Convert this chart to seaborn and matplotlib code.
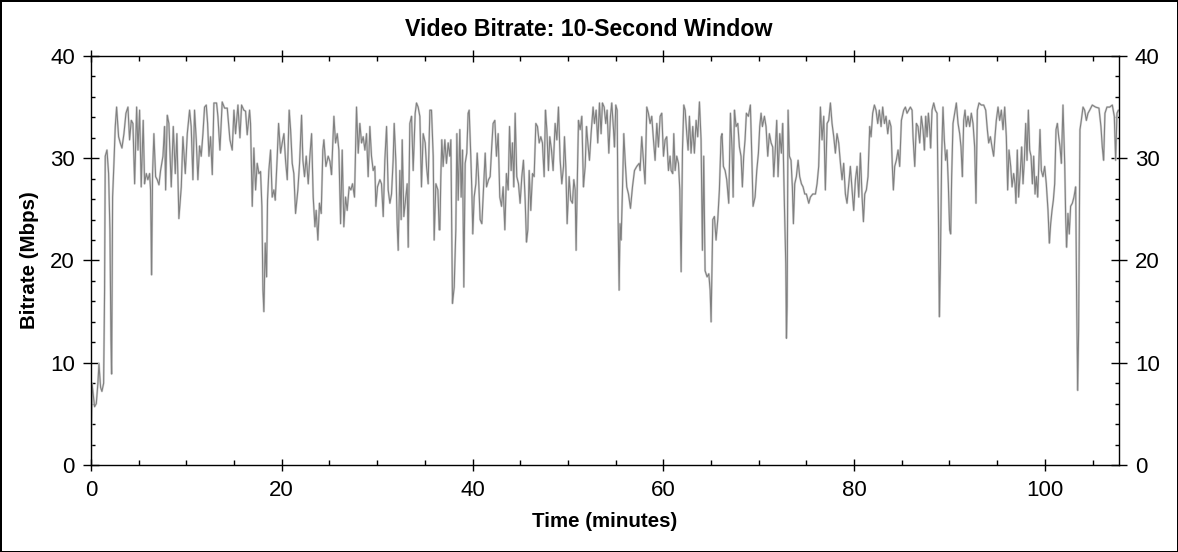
import matplotlib
matplotlib.use("Agg")
import matplotlib.pyplot as plt
from matplotlib.ticker import MultipleLocator
import pandas as pd
import seaborn as sns

# Values (minutes, Mbps)
time_min = [
    0.00, 0.11, 0.38, 0.56, 0.73, 0.84, 1.01, 1.15, 1.33, 1.43, 1.50, 1.68, 1.85, 1.99, 2.10, 2.17,
    2.27, 2.41, 2.55, 2.69, 2.90, 3.07, 3.25, 3.46, 3.67, 3.88, 4.05, 4.23, 4.40, 4.58, 4.79, 4.93,
    5.10, 5.27, 5.48, 5.62, 5.80, 5.97, 6.15, 6.25, 6.36, 6.46, 6.60, 6.78, 6.95, 7.13, 7.30, 7.55,
    7.72, 7.83, 8.00, 8.17, 8.42, 8.63, 8.84, 9.01, 9.22, 9.47, 9.64, 9.89, 10.10, 10.34, 10.51,
    10.69, 10.86, 11.04, 11.21, 11.39, 11.56, 11.74, 11.91, 12.09, 12.23,
    12.37, 12.54, 12.72, 12.89, 13.17, 13.31, 13.52, 13.76, 14.01, 14.29, 14.57, 14.81, 14.99, 15.16,
    15.41, 15.62, 15.79, 16.03, 16.21, 16.38, 16.63, 16.73, 16.91, 17.08, 17.26, 17.43, 17.61, 17.78,
    17.92, 18.03, 18.13, 18.27, 18.41, 18.51, 18.65, 18.83, 19.00, 19.18, 19.32, 19.53, 19.67, 19.88,
    20.05, 20.23, 20.40, 20.58, 20.78, 20.93, 21.10, 21.27, 21.45, 21.69, 21.87, 22.08, 22.22, 22.39,
    22.57, 22.78, 22.95, 23.13, 23.30, 23.48, 23.61, 23.79, 23.96, 24.14, 24.31,
    24.42, 24.63, 24.87, 25.05, 25.22, 25.47, 25.64, 25.82, 25.99, 26.17, 26.34, 26.51, 26.69, 26.86,
    27.07, 27.25, 27.42, 27.63, 27.84, 28.02, 28.19, 28.37, 28.54, 28.72, 28.89, 29.06, 29.24, 29.41,
    29.59, 29.76, 29.87, 30.04, 30.29, 30.46, 30.64, 30.81, 30.99, 31.16, 31.34, 31.51, 31.68, 31.79,
    31.96, 32.10, 32.21, 32.38, 32.52, 32.63, 32.80, 32.98, 33.15, 33.26, 33.43, 33.61, 33.78, 33.99,
    34.13, 34.30, 34.48, 34.65, 34.83, 35.04, 35.18, 35.35, 35.53, 35.70, 35.88, 35.98, 36.16, 36.37,
    36.51,
    36.58, 36.68, 36.78, 36.92, 37.10, 37.27, 37.45, 37.62, 37.73, 37.83, 37.90, 38.08, 38.25, 38.36,
    38.50, 38.67, 38.81, 38.95, 39.09, 39.23, 39.40, 39.54, 39.65, 39.82, 39.93, 40.03, 40.17, 40.35,
    40.49, 40.63, 40.80, 40.98, 41.15, 41.33, 41.47, 41.68, 41.85, 42.02, 42.16, 42.34, 42.51, 42.69,
    42.86, 43.04, 43.21, 43.39, 43.56, 43.74, 43.88, 44.05, 44.19, 44.33, 44.47, 44.64, 44.82, 44.99,
    45.17, 45.34, 45.52, 45.66, 45.80, 45.94, 46.11, 46.29, 46.46, 46.64, 46.81, 46.99, 47.16, 47.33,
    47.51, 47.65, 47.79, 47.96, 48.10, 48.28, 48.45, 48.66,
    48.84, 49.01, 49.19, 49.36, 49.54, 49.64, 49.78, 49.92, 50.13, 50.30, 50.48, 50.62, 50.76, 50.86,
    51.00, 51.11, 51.28, 51.46, 51.63, 51.81, 51.95, 52.09, 52.26, 52.43, 52.64, 52.78, 52.96, 53.13,
    53.31, 53.48, 53.62, 53.80, 53.97, 54.11, 54.29, 54.46, 54.60, 54.78, 54.88, 55.02, 55.16, 55.26,
    55.37, 55.47, 55.58, 55.72, 55.86, 56.00, 56.17, 56.35, 56.56, 56.77, 56.98, 57.22, 57.47, 57.57,
    57.74, 57.92, 58.09, 58.27, 58.44, 58.62, 58.79, 58.97, 59.14, 59.32, 59.49, 59.67, 59.84, 60.02,
    60.19, 60.36, 60.54, 60.71, 60.82,
    60.99, 61.10, 61.24, 61.41, 61.59, 61.73, 61.87, 62.01, 62.15, 62.29, 62.46, 62.60, 62.74, 62.91,
    63.09, 63.26, 63.44, 63.61, 63.79, 63.96, 64.10, 64.24, 64.38, 64.59, 64.77, 64.91, 65.01, 65.19,
    65.36, 65.53, 65.71, 65.88, 66.06, 66.16, 66.30, 66.48, 66.65, 66.86, 67.04, 67.21, 67.32, 67.46,
    67.63, 67.81, 67.98, 68.15, 68.29, 68.43, 68.57, 68.71, 68.92, 69.13, 69.27, 69.41, 69.62, 69.80,
    69.97, 70.11, 70.25, 70.39, 70.60, 70.77, 70.95, 71.12, 71.30, 71.47, 71.58, 71.72, 71.89, 72.03,
    72.21, 72.38, 72.52, 72.70, 72.84, 72.91,
    72.98, 73.08, 73.22, 73.39, 73.53, 73.64, 73.78, 73.95, 74.13, 74.30, 74.48, 74.65, 74.83, 75.00,
    75.25, 75.42, 75.67, 75.95, 76.12, 76.29, 76.47, 76.64, 76.82, 76.99, 77.17, 77.34, 77.52, 77.69,
    77.87, 78.04, 78.21, 78.39, 78.57, 78.74, 78.91, 79.09, 79.26, 79.44, 79.61, 79.79, 79.96, 80.14,
    80.31, 80.49, 80.66, 80.84, 80.98, 81.12, 81.29, 81.46, 81.64, 81.78, 81.95, 82.13, 82.30, 82.48,
    82.65, 82.83, 83.00, 83.18, 83.35, 83.53, 83.70, 83.87, 84.01, 84.12, 84.26, 84.43, 84.61, 84.78,
    84.96, 85.13,
    85.20, 85.38, 85.55, 85.73, 85.90, 86.08, 86.18, 86.36, 86.53, 86.70, 86.88, 87.05, 87.23, 87.37,
    87.51, 87.65, 87.79, 87.93, 88.03, 88.17, 88.35, 88.52, 88.70, 88.84, 88.94, 89.05, 89.18, 89.32,
    89.46, 89.60, 89.74, 89.88, 90.02, 90.13, 90.23, 90.37, 90.55, 90.72, 90.90, 91.07, 91.21, 91.35,
    91.49, 91.63, 91.77, 91.94, 92.12, 92.29, 92.47, 92.64, 92.78, 92.92, 93.10, 93.34, 93.59, 93.80,
    93.97, 94.11, 94.29, 94.46, 94.63, 94.77, 94.91, 95.09, 95.26, 95.44, 95.61, 95.79, 95.96, 96.10,
    96.24, 96.42, 96.56, 96.73, 96.87, 96.97, 97.11, 97.25,
    97.43, 97.57, 97.71, 97.85, 97.99, 98.13, 98.27, 98.41, 98.55, 98.69, 98.83, 98.97, 99.11, 99.25,
    99.39, 99.49, 99.63, 99.80, 99.98, 100.15, 100.33, 100.47, 100.61, 100.75, 100.89, 101.03, 101.17,
    101.31, 101.45, 101.59, 101.73, 101.90, 102.08, 102.18, 102.28, 102.42, 102.56, 102.70, 102.88,
    103.05, 103.23, 103.33, 103.44, 103.54, 103.68, 103.82, 104.00, 104.17, 104.35, 104.52, 104.70,
    104.97, 105.32, 105.67, 105.88, 106.02, 106.16, 106.30, 106.51, 106.79, 107.07, 107.28, 107.42,
    107.56, 107.70,
]

bitrate_mbps = [
    0.0, 8.0, 5.7, 6.0, 8.0, 9.9, 7.6, 7.2, 8.0, 17.1, 30.2, 30.8, 28.5, 23.0, 12.2, 8.9,
    26.2, 29.5, 33.1, 35.0, 32.1, 31.5, 31.0, 32.4, 34.4, 35.0, 31.8, 33.7, 33.4, 27.5, 35.0, 30.8,
    34.7, 27.2, 33.7, 27.5, 28.5, 27.9, 28.5, 26.9, 18.6, 28.5, 32.4, 28.2, 27.9, 27.4, 28.8, 30.2,
    33.1, 26.9, 34.2, 33.4, 27.2, 33.1, 28.5, 32.4, 24.1, 27.2, 32.1, 28.5, 32.4, 34.7, 33.1,
    27.9, 34.7, 31.8, 27.9, 31.2, 30.2, 32.4, 35.0, 35.2, 33.4,
    30.2, 32.1, 28.4, 35.4, 35.4, 34.1, 30.8, 35.5, 34.9, 34.9, 31.8, 30.8, 34.7, 32.4,
    35.2, 32.0, 35.2, 34.7, 34.6, 32.3, 34.7, 33.4, 25.3, 31.0, 26.9, 29.5, 28.5, 28.7,
    25.3, 17.1, 15.0, 21.7, 18.4, 25.9, 28.8, 30.8, 26.2, 26.9, 25.9, 30.2, 33.4, 30.5,
    31.5, 32.4, 29.8, 27.9, 34.7, 32.8, 29.5, 28.5, 24.6, 26.9, 29.5, 34.2, 29.8, 28.2,
    30.2, 27.5, 30.2, 32.4, 26.2, 23.3, 24.9, 22.0, 25.6, 24.6, 30.8,
    31.8, 29.2, 30.2, 29.7, 28.4, 34.1, 31.5, 32.4, 30.8, 23.6, 30.8, 23.3, 26.2, 24.9,
    27.2, 26.9, 27.5, 26.2, 35.0, 30.5, 33.4, 31.5, 32.1, 30.8, 32.4, 28.2, 33.1, 30.2,
    28.8, 29.2, 25.3, 27.2, 27.9, 27.5, 24.3, 29.8, 33.1, 26.9, 25.6, 26.5, 29.8, 33.4,
    29.8, 23.6, 21.0, 28.8, 24.0, 31.8, 24.3, 25.9, 27.5, 21.3, 33.4, 34.1, 28.8, 34.4,
    35.4, 35.0, 34.1, 27.2, 32.4, 31.5, 29.2, 27.5, 34.7, 34.7, 30.2, 22.0, 27.5, 26.9,
    23.0,
    23.0, 28.2, 31.8, 29.2, 31.8, 29.5, 31.5, 30.2, 31.8, 22.3, 15.8, 17.4, 23.0, 32.4,
    25.9, 32.8, 26.2, 30.8, 17.4, 29.5, 30.5, 34.4, 34.7, 30.2, 26.9, 22.6, 26.2, 27.5,
    30.5, 28.2, 24.0, 23.6, 26.9, 30.5, 27.2, 27.9, 28.2, 31.2, 33.4, 33.7, 30.2, 32.4,
    26.2, 25.3, 27.2, 23.0, 28.5, 26.9, 33.1, 28.8, 31.5, 27.2, 34.4, 28.2, 27.5, 25.6,
    28.2, 29.8, 25.9, 21.8, 23.0, 28.8, 24.9, 28.5, 28.2, 33.4, 33.1, 31.5, 32.1, 31.5,
    28.2, 34.7, 32.8, 28.8, 32.1, 30.8, 28.8, 33.4,
    31.8, 35.0, 29.8, 27.5, 29.2, 32.1, 29.2, 23.6, 28.2, 25.9, 25.6, 27.9, 26.9, 21.0,
    28.5, 33.7, 32.8, 34.1, 27.2, 29.2, 33.1, 31.5, 29.8, 32.4, 35.0, 33.4, 34.7, 31.5,
    35.4, 32.4, 35.4, 35.0, 33.4, 34.7, 30.5, 34.1, 35.4, 32.8, 31.1, 35.2, 34.7, 24.3,
    17.1, 23.6, 22.0, 26.9, 32.4, 29.8, 27.2, 26.5, 25.1, 27.2, 28.8, 29.2, 29.5, 28.8,
    32.1, 29.8, 27.5, 35.0, 34.4, 33.4, 34.1, 31.8, 29.8, 33.4, 31.1, 34.1, 34.4, 30.2,
    31.8, 32.1, 28.8, 30.2, 28.8,
    28.5, 32.4, 28.8, 30.2, 29.5, 26.9, 18.9, 30.8, 35.2, 34.7, 32.4, 30.8, 34.1, 30.5,
    33.1, 30.5, 33.7, 32.1, 35.5, 31.8, 21.0, 30.2, 19.0, 18.4, 18.7, 17.1, 14.0, 24.0,
    24.3, 22.0, 24.0, 26.9, 32.1, 32.4, 29.2, 28.8, 27.9, 25.6, 34.4, 30.8, 26.2, 34.7,
    33.1, 33.4, 31.1, 30.2, 27.2, 30.2, 31.8, 34.4, 34.1, 35.2, 30.5, 25.3, 26.2, 28.8,
    30.5, 33.1, 34.4, 33.1, 34.1, 33.1, 30.2, 32.4, 31.5, 31.1, 28.2, 30.5, 33.7, 28.2,
    32.4, 30.5, 33.4, 25.3, 19.7, 12.4,
    15.5, 34.7, 30.2, 29.8, 27.2, 23.6, 27.5, 28.2, 29.8, 28.2, 27.5, 27.2, 26.5, 26.5,
    25.6, 26.2, 26.5, 26.5, 27.5, 29.2, 35.0, 31.8, 34.1, 26.9, 33.4, 33.7, 35.4, 33.4,
    32.1, 30.5, 32.4, 31.5, 29.5, 27.9, 29.5, 26.5, 25.6, 27.5, 29.2, 26.9, 24.9, 27.9,
    29.2, 26.2, 30.5, 26.2, 23.8, 26.5, 26.9, 28.2, 33.1, 32.1, 34.4, 35.2, 34.7, 33.4,
    34.7, 33.1, 35.0, 33.4, 34.1, 32.4, 33.7, 33.1, 29.2, 26.9, 29.2, 29.8, 30.8, 29.2,
    33.7, 34.4,
    34.7, 35.0, 34.4, 34.7, 35.0, 34.7, 32.1, 29.2, 33.4, 33.1, 31.5, 34.1, 32.8, 30.8,
    34.1, 32.1, 34.4, 32.8, 31.0, 34.7, 35.4, 34.7, 34.4, 24.6, 14.5, 19.7, 30.2, 35.0,
    31.8, 29.8, 30.8, 27.5, 23.0, 22.6, 28.2, 33.4, 34.4, 35.4, 33.4, 32.4, 31.1, 28.2,
    33.7, 34.7, 33.1, 34.1, 33.1, 34.4, 33.4, 31.1, 25.6, 34.7, 35.4, 35.2, 35.2, 34.7,
    32.8, 31.5, 32.1, 31.1, 30.2, 32.1, 33.7, 35.0, 33.7, 34.7, 32.8, 35.0, 32.1, 26.9,
    30.8, 29.2, 27.2, 28.5, 27.5, 25.6, 30.8, 26.2,
    28.8, 31.1, 27.5, 29.8, 33.4, 29.8, 34.7, 30.8, 30.2, 27.5, 30.2, 26.5, 28.2, 26.2,
    30.2, 32.8, 28.8, 28.2, 29.2, 27.5, 24.9, 21.7, 23.6, 24.9, 25.9, 27.5, 32.8,
    33.4, 32.1, 31.1, 29.5, 35.2, 29.5, 24.3, 21.3, 24.6, 22.6, 25.3, 25.6,
    26.2, 27.2, 16.5, 7.3, 13.2, 32.8, 33.7, 35.0, 34.7, 33.7, 34.4, 34.7,
    35.2, 35.0, 34.9, 33.1, 31.1, 29.8, 34.4, 35.0, 35.0, 35.2, 34.1, 29.8,
    34.4, 34.7,
]

title_text = "Video Bitrate: 10-Second Window"
x_label = "Time (minutes)"
y_label = "Bitrate (Mbps)"

df = pd.DataFrame({"time": time_min, "bitrate": bitrate_mbps})

sns.set_theme(style="ticks")
plt.rcParams["font.family"] = ["Liberation Sans", "DejaVu Sans"]
plt.rcParams["text.color"] = "black"
plt.rcParams["xtick.color"] = "black"
plt.rcParams["ytick.color"] = "black"
plt.rcParams["axes.labelcolor"] = "black"

fig = plt.figure(figsize=(11.78, 5.52), dpi=100)
ax = fig.add_axes([0.0772, 0.1576, 0.8727, 0.741])

# light underlay gives the pale band seen around the trace
sns.lineplot(data=df, x="time", y="bitrate", ax=ax, color="#d6d6d6", linewidth=1.6, sort=False)
sns.lineplot(data=df, x="time", y="bitrate", ax=ax, color="#808080", linewidth=0.8, sort=False)

ax.set_xlim(0, 107.77)
ax.set_ylim(0, 40)
ax.xaxis.set_major_locator(MultipleLocator(20))
ax.xaxis.set_minor_locator(MultipleLocator(5))
ax.yaxis.set_major_locator(MultipleLocator(10))
ax.yaxis.set_minor_locator(MultipleLocator(2))

ax.tick_params(axis="x", which="major", direction="inout", length=9, width=1,
               top=True, labelsize=16, pad=6)
ax.tick_params(axis="x", which="minor", direction="in", length=3.5, width=1, top=True)
ax.tick_params(axis="y", which="major", direction="inout", length=11, width=1,
               right=True, labelright=True, labelsize=16, pad=6)
ax.tick_params(axis="y", which="minor", direction="in", length=3, width=1, right=True)

for side in ax.spines.values():
    side.set_color("black")
    side.set_linewidth(1.0)

ax.set_xlabel(x_label, fontsize=14.8, fontweight="bold", labelpad=8)
ax.set_ylabel(y_label, fontsize=14.8, fontweight="bold", labelpad=8)
fig.suptitle(title_text, fontsize=16.7, fontweight="bold", y=0.968)

# outer frame around the whole picture
fig.patch.set_edgecolor("black")
fig.patch.set_linewidth(2)

fig.savefig("out.png", dpi=100)
